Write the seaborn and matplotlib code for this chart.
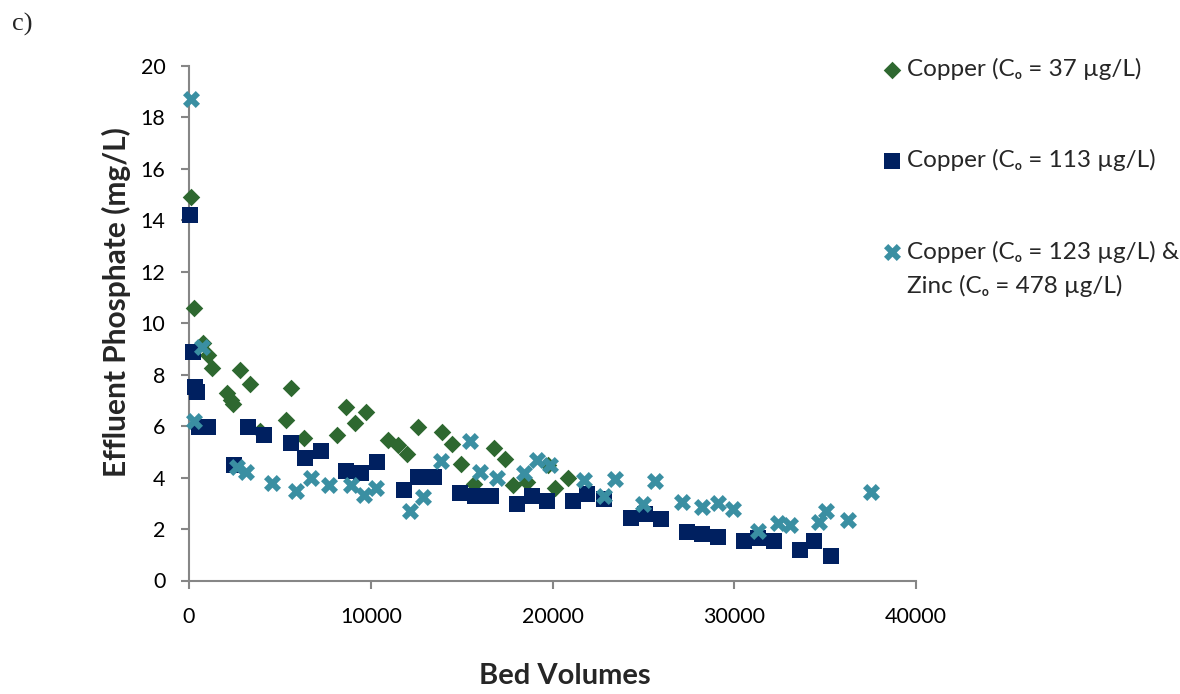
import numpy as np
import pandas as pd
import matplotlib
matplotlib.use("Agg")
import matplotlib.pyplot as plt
import seaborn as sns

# Copper only, C0 = 37 ug/L
cu37_bv = [93, 275, 787, 1063, 1247, 2109, 2300, 2440, 2806, 3356, 3906, 5318, 5593,
           6346, 8120, 8638, 9133, 9738, 10967, 11480, 11975, 12610, 13903, 14453,
           14948, 15681, 16797, 17386, 17845, 18570, 19770, 20138, 20870]
cu37_p = [14.9, 10.6, 9.24, 8.76, 8.25, 7.27, 7.0, 6.86, 8.18, 7.64, 5.82, 6.24, 7.47,
          5.53, 5.65, 6.76, 6.11, 6.56, 5.46, 5.27, 4.92, 5.98, 5.78, 5.30,
          4.52, 3.75, 5.16, 4.71, 3.71, 3.84, 4.49, 3.58, 3.97]

# Copper only, C0 = 113 ug/L
cu113_bv = [55, 202, 330, 457, 567, 1063, 2490, 3263, 4143, 5593, 6383, 7263, 8638,
            9463, 10362, 11830, 12618, 13498, 14911, 15736, 16616, 18030, 18845,
            19700, 21145, 21880, 22850, 24300, 25090, 25970, 27417, 28207, 29088,
            30520, 31323, 32200, 33617, 34397, 35300]
cu113_p = [14.2, 8.89, 7.53, 7.34, 5.98, 5.98, 4.49, 5.95, 5.65, 5.33, 4.75, 5.03, 4.27,
           4.19, 4.61, 3.52, 4.01, 4.01, 3.41, 3.30, 3.30, 2.97, 3.30,
           3.10, 3.08, 3.37, 3.16, 2.42, 2.58, 2.39, 1.87, 1.81, 1.68,
           1.55, 1.64, 1.54, 1.18, 1.55, 0.96]

# Copper (123 ug/L) and zinc (478 ug/L) together
cuzn_bv = [93, 275, 697, 2622, 3136, 4585, 5868, 6713, 7722, 8913, 9620, 10289, 12160,
           12893, 13848, 15461, 16011, 16930, 18449, 19120, 19880, 21720, 22850,
           23440, 24960, 25640, 27107, 28240, 29123, 29950, 31323, 32420, 33070,
           34680, 35030, 36275, 37505]
cuzn_p = [18.7, 6.20, 9.09, 4.42, 4.23, 3.78, 3.49, 4.0, 3.71, 3.73, 3.32, 3.58, 2.71,
          3.26, 4.64, 5.43, 4.23, 4.0, 4.17, 4.68, 4.49, 3.92, 3.30,
          3.94, 2.97, 3.88, 3.06, 2.84, 3.03, 2.79, 1.94, 2.25, 2.14,
          2.29, 2.71, 2.35, 3.45]

labels = ["Copper (C\u2092 = 37 \u00b5g/L)",
          "Copper (C\u2092 = 113 \u00b5g/L)",
          "Copper (C\u2092 = 123 \u00b5g/L) &"]
zinc_line = "Zinc (C\u2092 = 478 \u00b5g/L)"

x_ticks = [0, 10000, 20000, 30000, 40000]
y_ticks = [0, 2, 4, 6, 8, 10, 12, 14, 16, 18, 20]

sns.set_theme(style="white")
plt.rcParams["font.family"] = ["Lato", "DejaVu Sans"]

W, H = 1180, 694
fig = plt.figure(figsize=(W / 100, H / 100), dpi=100)
ax = fig.add_axes([189 / W, 1 - 580.5 / H, (916 - 189) / W, (580.5 - 66) / H])

series = [
    (cu37_bv, cu37_p, "D", "#2E6830", 80),
    (cu113_bv, cu113_p, "s", "#002060", 118),
    (cuzn_bv, cuzn_p, "X", "#3A8FA2", 150),
]
for (bv, p, mk, col, size), lab in zip(series, labels):
    df = pd.DataFrame({"Bed Volumes": bv, "P": p})
    sns.scatterplot(data=df, x="Bed Volumes", y="P", marker=mk, color=col, s=size,
                    linewidth=0, ax=ax, label=lab, clip_on=False, zorder=3)

ax.set_xlim(0, 40000)
ax.set_ylim(0, 20)
ax.set_xticks(x_ticks)
ax.set_xticklabels([str(t) for t in x_ticks])
ax.set_yticks(y_ticks)
ax.set_yticklabels([str(t) for t in y_ticks])

spine_col = "#868686"
for side in ["top", "right"]:
    ax.spines[side].set_visible(False)
for side in ["left", "bottom"]:
    ax.spines[side].set_color(spine_col)
    ax.spines[side].set_linewidth(1.5)
ax.tick_params(axis="both", which="major", direction="out", length=6, width=1.5,
               color=spine_col, labelsize=15.5, labelcolor="black")
ax.tick_params(axis="y", pad=11, left=True)
ax.tick_params(axis="x", pad=13, bottom=True)
ax.grid(False)

ax.set_xlabel("Bed Volumes", fontsize=21, fontweight="bold")
ax.set_ylabel("Effluent Phosphate (mg/L)", fontsize=21.5, fontweight="bold")
ax.xaxis.set_label_coords(0.517, -0.160)
ax.yaxis.set_label_coords(-0.080, 0.541)

leg = ax.legend(loc="upper left", bbox_to_anchor=(883 / W, 1 - 58 / H),
                bbox_transform=fig.transFigure, frameon=False, fontsize=17.5,
                handlelength=0.7, handletextpad=0.27, labelspacing=2.85,
                borderpad=0, borderaxespad=0, markerscale=1.0)

# second line of the last legend entry, set just under its first line
fig.canvas.draw()
bb = leg.get_texts()[2].get_window_extent()
fig.text(bb.x0 / W, (bb.y0 - 12) / H, zinc_line, fontsize=17.5, va="top", ha="left")

fig.text(12 / W, 1 - 24 / H, "c)", family="Liberation Serif", fontsize=19,
         va="center", ha="left")

fig.savefig("out.png", dpi=100)
